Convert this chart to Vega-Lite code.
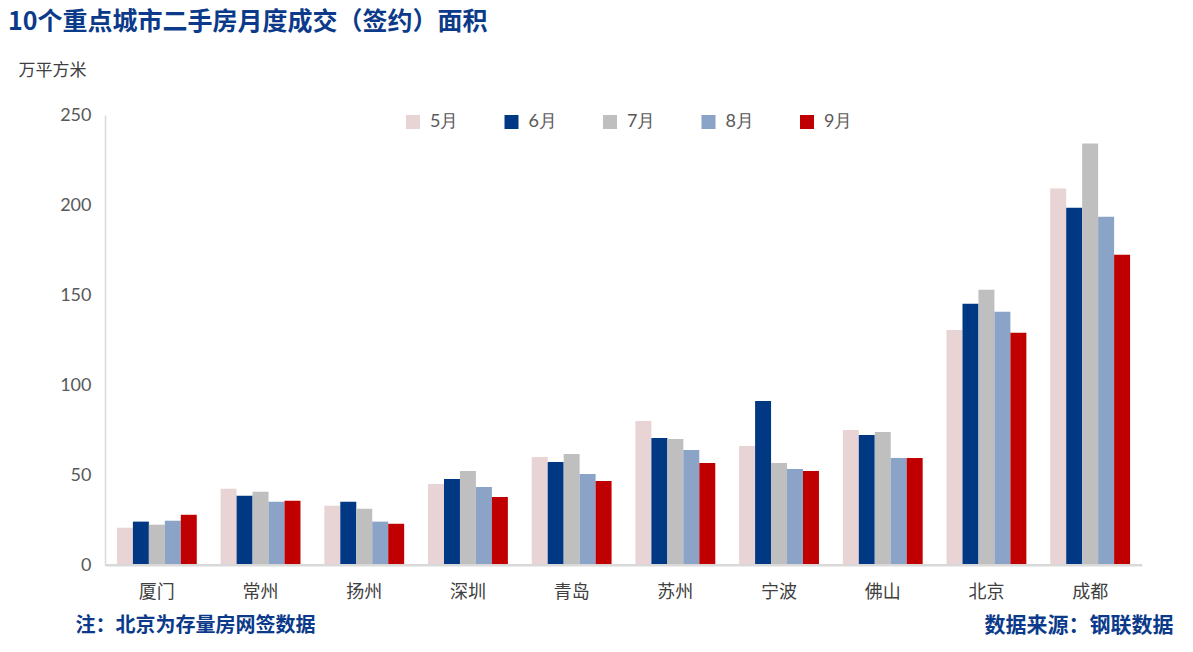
{
  "$schema": "https://vega.github.io/schema/vega-lite/v6.json",
  "width": 1037,
  "height": 450,
  "autosize": {"type": "none"},
  "padding": {"left": 105, "top": 115, "right": 51, "bottom": 87},
  "background": "white",
  "title": {
    "text": "10个重点城市二手房月度成交（签约）面积",
    "anchor": "start",
    "frame": "group",
    "dx": -97,
    "offset": 26,
    "fontSize": 25,
    "font": "Noto Sans CJK SC",
    "fontWeight": "bold",
    "color": "#0B3A8A"
  },
  "config": {"view": {"stroke": null}},
  "layer": [
    {
      "data": {
        "values": [
          {"city": "厦门", "month": "5月", "value": 20.7},
          {"city": "厦门", "month": "6月", "value": 24.1},
          {"city": "厦门", "month": "7月", "value": 22.4},
          {"city": "厦门", "month": "8月", "value": 24.6},
          {"city": "厦门", "month": "9月", "value": 27.9},
          {"city": "常州", "month": "5月", "value": 42.4},
          {"city": "常州", "month": "6月", "value": 38.5},
          {"city": "常州", "month": "7月", "value": 40.7},
          {"city": "常州", "month": "8月", "value": 35.2},
          {"city": "常州", "month": "9月", "value": 35.7},
          {"city": "扬州", "month": "5月", "value": 32.9},
          {"city": "扬州", "month": "6月", "value": 35.2},
          {"city": "扬州", "month": "7月", "value": 31.3},
          {"city": "扬州", "month": "8月", "value": 24.1},
          {"city": "扬州", "month": "9月", "value": 22.9},
          {"city": "深圳", "month": "5月", "value": 45.0},
          {"city": "深圳", "month": "6月", "value": 47.8},
          {"city": "深圳", "month": "7月", "value": 52.2},
          {"city": "深圳", "month": "8月", "value": 43.3},
          {"city": "深圳", "month": "9月", "value": 37.8},
          {"city": "青岛", "month": "5月", "value": 60.0},
          {"city": "青岛", "month": "6月", "value": 57.2},
          {"city": "青岛", "month": "7月", "value": 61.7},
          {"city": "青岛", "month": "8月", "value": 50.6},
          {"city": "青岛", "month": "9月", "value": 46.7},
          {"city": "苏州", "month": "5月", "value": 80.0},
          {"city": "苏州", "month": "6月", "value": 70.6},
          {"city": "苏州", "month": "7月", "value": 70.0},
          {"city": "苏州", "month": "8月", "value": 63.9},
          {"city": "苏州", "month": "9月", "value": 56.7},
          {"city": "宁波", "month": "5月", "value": 66.1},
          {"city": "宁波", "month": "6月", "value": 91.1},
          {"city": "宁波", "month": "7月", "value": 56.7},
          {"city": "宁波", "month": "8月", "value": 53.3},
          {"city": "宁波", "month": "9月", "value": 52.2},
          {"city": "佛山", "month": "5月", "value": 75.0},
          {"city": "佛山", "month": "6月", "value": 72.2},
          {"city": "佛山", "month": "7月", "value": 73.9},
          {"city": "佛山", "month": "8月", "value": 59.4},
          {"city": "佛山", "month": "9月", "value": 59.4},
          {"city": "北京", "month": "5月", "value": 130.6},
          {"city": "北京", "month": "6月", "value": 145.2},
          {"city": "北京", "month": "7月", "value": 152.9},
          {"city": "北京", "month": "8月", "value": 140.7},
          {"city": "北京", "month": "9月", "value": 129.0},
          {"city": "成都", "month": "5月", "value": 209.1},
          {"city": "成都", "month": "6月", "value": 198.5},
          {"city": "成都", "month": "7月", "value": 234.1},
          {"city": "成都", "month": "8月", "value": 193.5},
          {"city": "成都", "month": "9月", "value": 172.4}
        ]
      },
      "mark": {"type": "bar"},
      "encoding": {
        "x": {
          "field": "city",
          "type": "nominal",
          "sort": ["厦门", "常州", "扬州", "深圳", "青岛", "苏州", "宁波", "佛山", "北京", "成都"],
          "scale": {"paddingInner": 0.23, "paddingOuter": 0.115},
          "axis": {
            "labelAngle": 0,
            "labelFontSize": 18,
            "labelFont": "Noto Sans CJK SC",
            "labelColor": "#404040",
            "labelPadding": 18,
            "ticks": false,
            "domainColor": "#D9D9D9",
            "domainWidth": 2,
            "title": "注：北京为存量房网签数据",
            "titleFont": "Noto Sans CJK SC",
            "titleFontSize": 20,
            "titleFontWeight": "bold",
            "titleColor": "#0B3A8A",
            "titleAlign": "left",
            "titleBaseline": "middle",
            "titleAnchor": "start",
            "titleX": -30,
            "titleY": 60
          }
        },
        "xOffset": {
          "field": "month",
          "type": "nominal",
          "sort": ["5月", "6月", "7月", "8月", "9月"],
          "scale": {"paddingInner": 0, "paddingOuter": 0}
        },
        "y": {
          "field": "value",
          "type": "quantitative",
          "scale": {"domain": [0, 250], "nice": false},
          "axis": {
            "values": [0, 50, 100, 150, 200, 250],
            "grid": false,
            "ticks": false,
            "domainColor": "#D9D9D9",
            "domainWidth": 1.5,
            "labelFont": "Lato",
            "labelFontSize": 18,
            "labelColor": "#595959",
            "labelPadding": 14,
            "title": "万平方米",
            "titleFont": "Noto Sans CJK SC",
            "titleFontSize": 17,
            "titleFontWeight": "normal",
            "titleColor": "#404040",
            "titleAngle": 0,
            "titleAlign": "left",
            "titleBaseline": "middle",
            "titleX": -87,
            "titleY": -45
          }
        },
        "color": {
          "field": "month",
          "type": "nominal",
          "scale": {
            "domain": ["5月", "6月", "7月", "8月", "9月"],
            "range": ["#E8D4D4", "#003884", "#BFBFBF", "#8BA3C7", "#C00000"]
          },
          "legend": {
            "orient": "none",
            "legendX": 299,
            "legendY": -2,
            "direction": "horizontal",
            "title": null,
            "symbolType": "square",
            "symbolSize": 196,
            "symbolStrokeWidth": 0,
            "symbolOpacity": 1,
            "labelFont": "Lato",
            "labelFontSize": 18,
            "labelColor": "#595959",
            "labelOffset": 8,
            "columnPadding": 43.5
          }
        }
      }
    },
    {
      "data": {"values": [{"base": 0}]},
      "mark": {"type": "rule", "color": "#D9D9D9", "strokeWidth": 2},
      "encoding": {
        "y": {
          "field": "base",
          "type": "quantitative",
          "axis": {
            "orient": "right",
            "domain": false,
            "ticks": false,
            "labels": false,
            "grid": false,
            "title": "数据来源：钢联数据",
            "titleFont": "Noto Sans CJK SC",
            "titleFontSize": 21,
            "titleFontWeight": "bold",
            "titleColor": "#0B3A8A",
            "titleAngle": 0,
            "titleAlign": "right",
            "titleBaseline": "middle",
            "titleX": 31,
            "titleY": 510
          }
        }
      }
    }
  ],
  "resolve": {"axis": {"y": "independent"}}
}
